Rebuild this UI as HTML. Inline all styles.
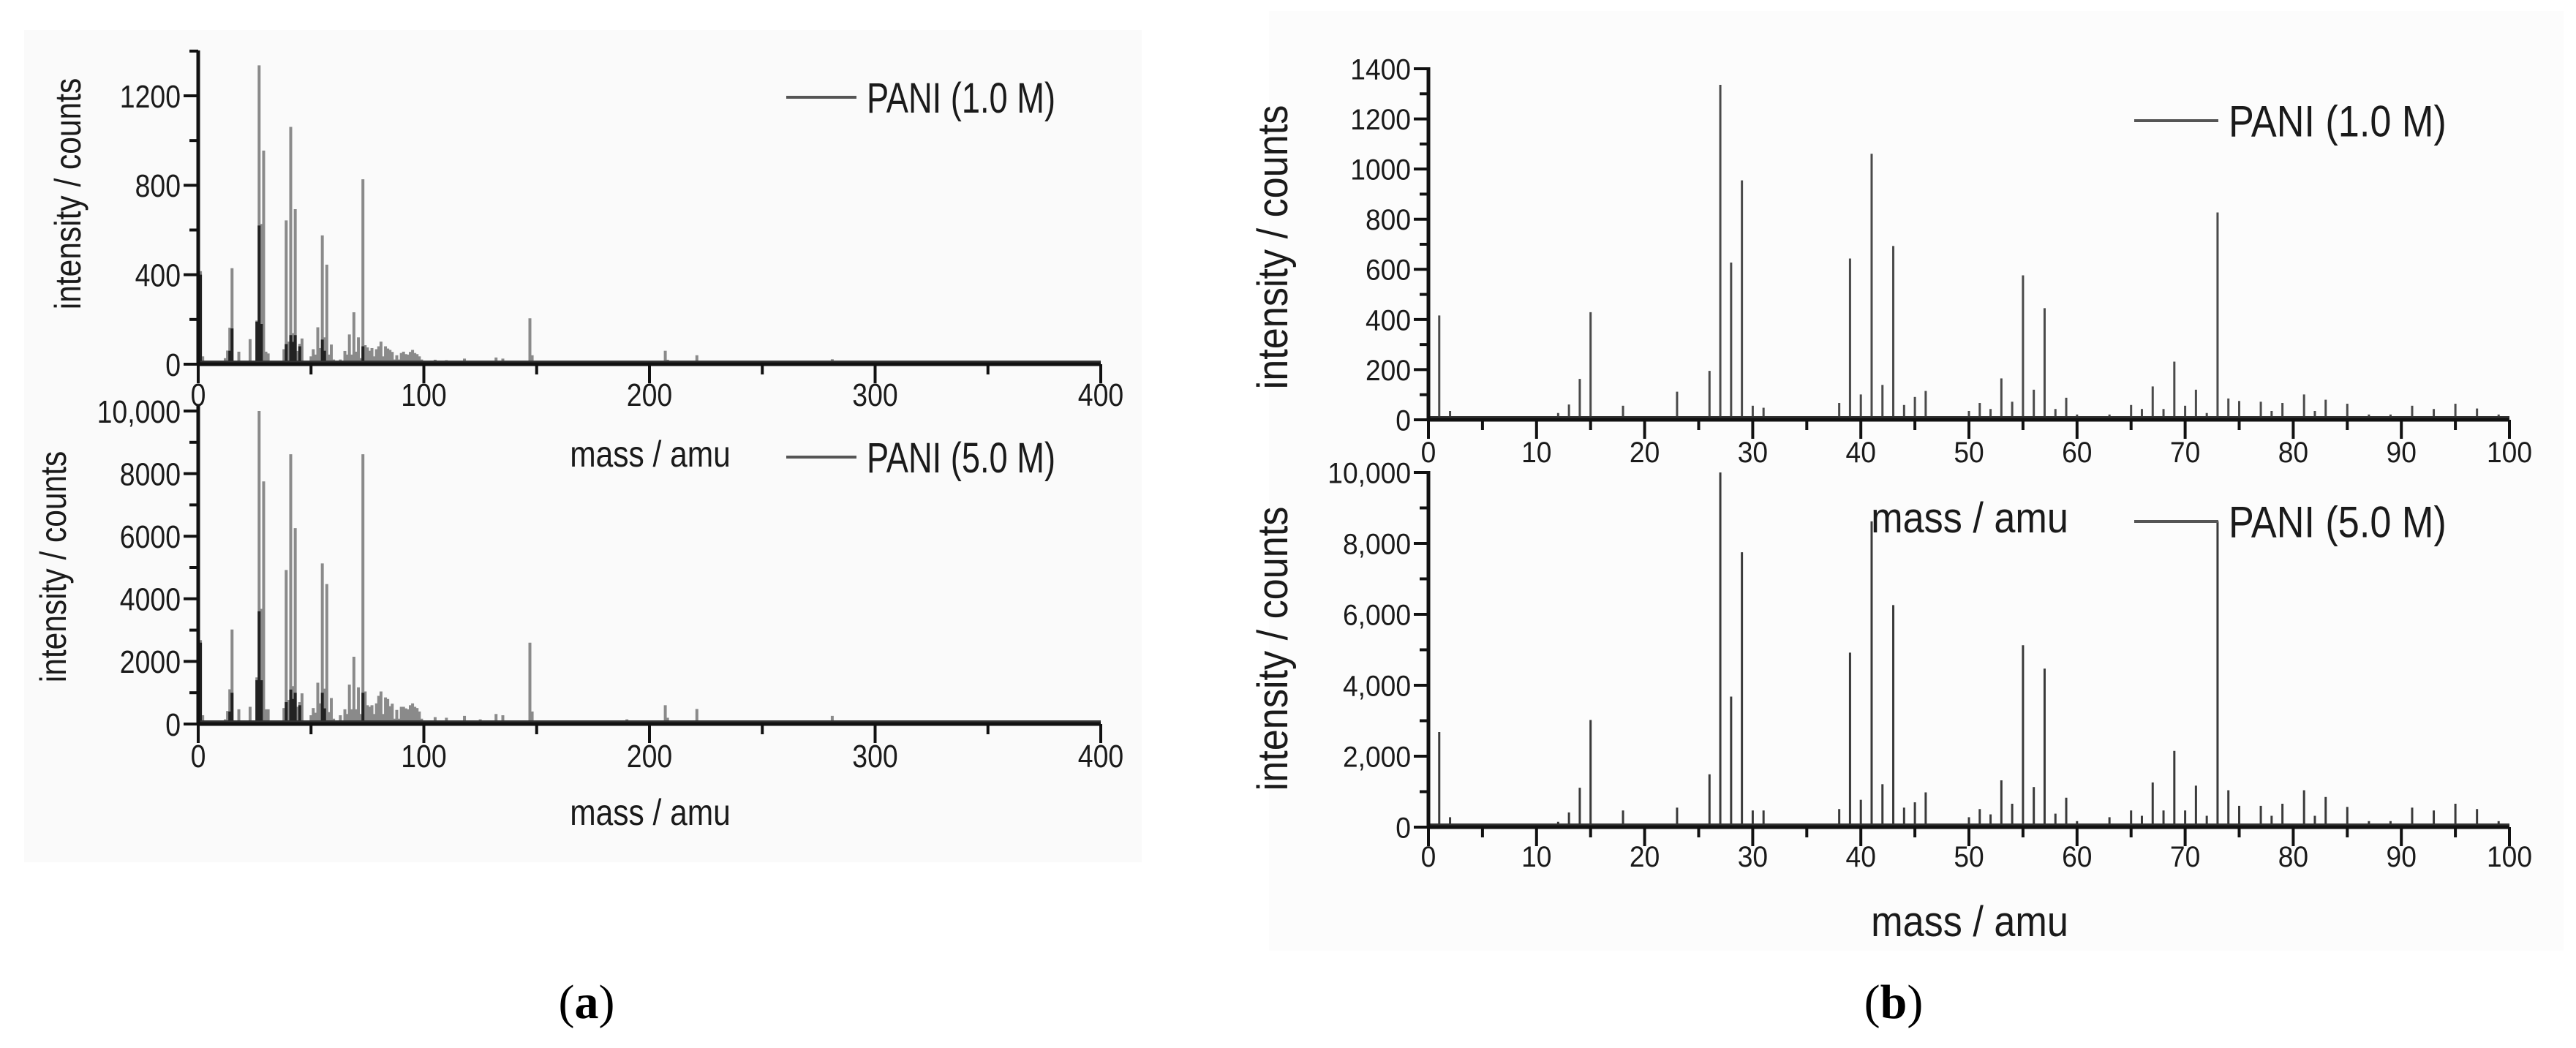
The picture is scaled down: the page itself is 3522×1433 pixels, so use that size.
<!DOCTYPE html>
<html><head><meta charset="utf-8"><style>
html,body{margin:0;padding:0;background:#fff;}
svg{display:block;font-family:"Liberation Sans",Arial,sans-serif;}
</style></head><body>
<svg id="fig" width="3522" height="1433" viewBox="0 0 3522 1433" xmlns="http://www.w3.org/2000/svg">
<rect x="33" y="41" width="1528" height="1138" fill="#fafafa"/>
<rect x="1735" y="15" width="1770" height="1285" fill="#fcfcfc"/>
<g id="root"></g>
</svg>
<script>
// ---- data: panel (b) integer masses 0-100 ----
const massB = [1,2,12,13,14,15,18,23,26,27,28,29,30,31,38,39,40,41,42,43,44,45,46,50,51,52,53,54,55,56,57,58,59,60,63,65,66,67,68,69,70,71,72,73,74,75,77,78,79,81,82,83,85,87,89,91,93,95,97,99];
const low = [416,35,27,61,163,429,56,112,195,1336,627,955,56,48,67,643,101,1061,139,693,59,91,115,35,67,43,165,72,576,120,445,43,88,21,21,59,43,133,43,232,56,120,27,827,85,75,72,35,67,101,35,80,64,21,21,56,43,64,45,21];
const high = [2680,280,150,415,1110,3020,470,550,1490,10000,3680,7750,470,470,510,4920,770,8620,1210,6260,550,700,980,280,510,360,1320,660,5130,1130,4470,380,830,170,280,470,320,1260,470,2150,470,1170,320,8620,1040,600,600,320,660,1040,320,850,570,170,170,550,470,660,510,170];
// ---- panel (a) extra peaks (clutter and above 100 amu) ----
const massA = [76,80,84,86,88,90,92,94,96,98,105,110,118,125,132,135,147,148,190,207,208,221,250,281,325];
const lowA = [60,80,70,55,40,50,45,55,50,35,20,18,25,15,30,25,205,40,15,60,20,40,10,22,8];
const highA = [550,900,800,650,450,550,500,600,550,400,220,200,260,150,320,280,2600,400,150,600,200,480,100,260,80];
// dark overlay series for panel (a)
const darkMass = [1,14,15,26,27,28,39,41,42,43,45,55,56,73];
const darkLow = [400,60,160,190,620,180,90,130,100,130,80,110,60,80];
const darkHigh = [2600,400,1000,1400,3600,1400,700,1100,800,1000,600,1000,500,1000];

const ticksA1 = [0,400,800,1200];
const ticksA2 = [0,2000,4000,6000,8000,10000];
const ticksA2Lbl = ["0","2000","4000","6000","8000","10,000"];
const ticksB1 = [0,200,400,600,800,1000,1200,1400];
const ticksB2 = [0,2000,4000,6000,8000,10000];
const ticksB2Lbl = ["0","2,000","4,000","6,000","8,000","10,000"];
const xTicksA = [0,100,200,300,400];
const xTicksB = [0,10,20,30,40,50,60,70,80,90,100];

const NS="http://www.w3.org/2000/svg";
const root=document.getElementById('root');
function el(tag,attrs,parent){const e=document.createElementNS(NS,tag);for(const k in attrs)e.setAttribute(k,attrs[k]);(parent||root).appendChild(e);return e;}
function txt(s,x,y,size,anchor,sx,rot,parent){
  const t=el('text',{x:0,y:0,'font-size':size,'text-anchor':anchor,fill:'#1a1a1a',
    transform:`translate(${x},${y})${rot?` rotate(${rot})`:''} scale(${sx},1)`},parent);
  t.textContent=s;return t;}

function panel(cfg){
  const g=el('g',{});
  
  
  const X=m=>cfg.x0+(m-cfg.xmin)/(cfg.xmax-cfg.xmin)*(cfg.x1-cfg.x0);
  const Y=v=>cfg.y0-(v/cfg.vtop)*(cfg.y0-cfg.ytop);
  cfg.series.forEach(s=>{
    s.mass.forEach((m,i)=>{
      const r=el('line',{x1:X(m),x2:X(m),y1:cfg.y0,y2:Y(s.vals[i]),stroke:s.color,'stroke-width':s.w},g);
      
      
    });
  });
  const base=el('line',{x1:cfg.x0,x2:cfg.x1,y1:cfg.y0-3,y2:cfg.y0-3,stroke:'#333','stroke-width':4},g);
  
  
  const ax=el('line',{x1:cfg.x0,x2:cfg.x0,y1:cfg.y0+2,y2:cfg.axTop,stroke:'#111','stroke-width':5},g);
  
  
  const axx=el('line',{x1:cfg.x0-2,x2:cfg.x1,y1:cfg.y0,y2:cfg.y0,stroke:'#111','stroke-width':5},g);
  
  
  for(let v=0;v<=cfg.vmaxTick+1e-9;v+=cfg.yMinor){
    const major=cfg.yTicks.includes(v);
    el('line',{x1:cfg.x0,x2:cfg.x0-(major?20:12),y1:Y(v),y2:Y(v),stroke:'#111','stroke-width':4},g);
  }
  cfg.yTicks.forEach((v,i)=>{
    const t=txt(cfg.yLabels[i],cfg.x0-24,Y(v)+cfg.fs*0.36,cfg.fs,'end',cfg.tsx,0,g);
    
    
  });
  for(let m=cfg.xmin;m<=cfg.xmax+1e-9;m+=cfg.xMinor){
    const major=cfg.xTicks.includes(m);
    el('line',{x1:X(m),x2:X(m),y1:cfg.y0,y2:cfg.y0+(major?26:14),stroke:'#111','stroke-width':4},g);
  }
  cfg.xTicks.forEach(m=>{
    const t=txt(String(m),X(m),cfg.xlY,cfg.fs,'middle',cfg.tsx,0,g);
    
    
  });
  const yt=txt('intensity / counts',cfg.ytX,cfg.ytY,cfg.tfs,'middle',cfg.tsx2,-90,g);
  
  
  const xt=txt('mass / amu',cfg.xtX,cfg.xtY,cfg.tfs,'middle',cfg.tsx2,0,g);
  
  
  const ll=el('line',{x1:cfg.lx0,x2:cfg.lx1,y1:cfg.ly,y2:cfg.ly,stroke:'#555','stroke-width':4},g);
  
  
  const lt=txt(cfg.legend,cfg.lx1+14,cfg.ly+cfg.lfs*0.36,cfg.lfs,'start',cfg.lsx,0,g);
  
  
}
const allMassA=massB.concat(massA), lowAll=low.concat(lowA), highAll=high.concat(highA);
const pa={x0:271,x1:1505,xmin:0,xmax:400,xTicks:xTicksA,xMinor:50,fs:44,tsx:0.85,tfs:50,tsx2:0.85,lfs:58,lsx:0.78};
panel(Object.assign({},pa,{name:'panel-a-top',y0:498,ytop:131,vtop:1200,axTop:69,vmaxTick:1400,yMinor:200,yTicks:ticksA1,yLabels:ticksA1.map(String),
  series:[{mass:allMassA,vals:lowAll,color:'#8a8a8a',w:4},{mass:darkMass,vals:darkLow,color:'#222',w:4}],
  xlY:555,ytX:110,ytY:265,xtX:889,xtY:638,lx0:1075,lx1:1171,ly:133,legend:'PANI (1.0 M)'}));
panel(Object.assign({},pa,{name:'panel-a-bottom',y0:990,ytop:562,vtop:10000,axTop:555,vmaxTick:10000,yMinor:1000,yTicks:ticksA2,yLabels:ticksA2Lbl,
  series:[{mass:allMassA,vals:highAll,color:'#8a8a8a',w:4},{mass:darkMass,vals:darkHigh,color:'#222',w:4}],
  xlY:1049,ytX:90,ytY:775,xtX:889,xtY:1128,lx0:1075,lx1:1171,ly:625,legend:'PANI (5.0 M)'}));
const pb={x0:1953,x1:3431,xmin:0,xmax:100,xTicks:xTicksB,xMinor:5,fs:40,tsx:0.93,tfs:58,tsx2:0.9,lfs:60,lsx:0.87};
panel(Object.assign({},pb,{name:'panel-b-top',y0:574,ytop:94,vtop:1400,axTop:92,vmaxTick:1400,yMinor:100,yTicks:ticksB1,yLabels:ticksB1.map(String),
  series:[{mass:massB,vals:low,color:'#4a4a4a',w:3}],
  xlY:632,ytX:1760,ytY:338,xtX:2693,xtY:728,lx0:2918,lx1:3033,ly:165,legend:'PANI (1.0 M)'}));
panel(Object.assign({},pb,{name:'panel-b-bottom',y0:1131,ytop:646,vtop:10000,axTop:644,vmaxTick:10000,yMinor:1000,yTicks:ticksB2,yLabels:ticksB2Lbl,
  series:[{mass:massB,vals:high,color:'#3a3a3a',w:3}],
  xlY:1185,ytX:1760,ytY:887,xtX:2693,xtY:1280,lx0:2918,lx1:3033,ly:713,legend:'PANI (5.0 M)'}));
function cap(letter,x,name){
  const t=el('text',{x:x,y:1392,'font-size':66,'text-anchor':'middle','font-family':'"Liberation Serif",serif',fill:'#000'});
  
  
  t.innerHTML='(<tspan font-weight="bold">'+letter+'</tspan>)';
}
cap('a',802,'caption-a');
cap('b',2589,'caption-b');
</script>
</body></html>
